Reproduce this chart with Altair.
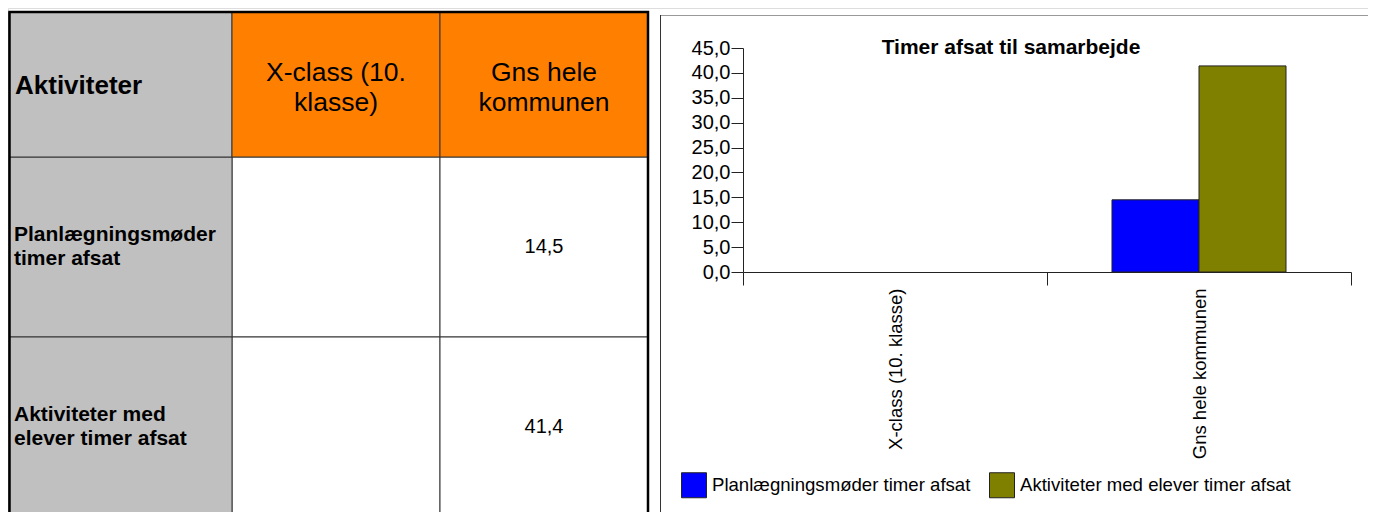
import altair as alt
import pandas as pd

# ---------------- data ----------------
categories = ["X-class (10. klasse)", "Gns hele kommunen"]
header_labels = ["X-class (10.\nklasse)", "Gns hele\nkommunen"]
series = ["Planlægningsmøder timer afsat", "Aktiviteter med elever timer afsat"]
row_labels = ["Planlægningsmøder\ntimer afsat", "Aktiviteter med\nelever timer afsat"]
planl_values = [None, 14.5]
aktiv_values = [None, 41.4]
corner_label = "Aktiviteter"
chart_title = "Timer afsat til samarbejde"
y_ticks = [0, 5, 10, 15, 20, 25, 30, 35, 40, 45]
series_colors = ["#0000FF", "#808000"]

FONT = "Liberation Sans"

records = []
for s, vals in zip(series, [planl_values, aktiv_values]):
    for c, v in zip(categories, vals):
        records.append({"series": s, "category": c, "value": v})
df = pd.DataFrame(records)
header_df = pd.DataFrame({"category": categories, "header": header_labels})
rowlab_df = pd.DataFrame({"series": series, "label": row_labels})
corner_df = pd.DataFrame({"t": [corner_label]})
title_df = pd.DataFrame({"t": [chart_title]})

# ---------------- table (left) ----------------
tx = alt.Scale(domain=categories, range=[224, 640], paddingInner=0, paddingOuter=0)
ty = alt.Scale(domain=series, range=[149, 509], paddingInner=0, paddingOuter=0)
LINE = "#333333"

value_cells = alt.Chart(df).mark_rect(fill="white", stroke=LINE, strokeWidth=1).encode(
    x=alt.X("category:N", scale=tx, axis=None),
    y=alt.Y("series:N", scale=ty, axis=None),
)
label_cells = alt.Chart(rowlab_df).mark_rect(fill="#C0C0C0", stroke=LINE, strokeWidth=1).encode(
    x=alt.value(1), x2=alt.value(224),
    y=alt.Y("series:N", scale=ty, axis=None),
)
corner_cell = alt.Chart(corner_df).mark_rect(fill="#C0C0C0", stroke=LINE, strokeWidth=1).encode(
    x=alt.value(1), x2=alt.value(224), y=alt.value(4), y2=alt.value(149)
)
header_cells = alt.Chart(header_df).mark_rect(fill="#FF8000", stroke=LINE, strokeWidth=1).encode(
    x=alt.X("category:N", scale=tx, axis=None),
    y=alt.value(4), y2=alt.value(149),
)
outer_border = alt.Chart(corner_df).mark_rect(fillOpacity=0, stroke="black", strokeWidth=2.5).encode(
    x=alt.value(1.5), x2=alt.value(640), y=alt.value(4), y2=alt.value(600)
)
corner_text = alt.Chart(corner_df).mark_text(
    align="left", baseline="middle", font=FONT, fontSize=26, fontWeight="bold", color="black"
).encode(text="t:N", x=alt.value(7), y=alt.value(78))
header_text = alt.Chart(header_df).mark_text(
    align="center", baseline="middle", font=FONT, fontSize=26.5, color="black",
    lineBreak="\n", lineHeight=30, dy=-14,
).encode(
    x=alt.X("category:N", scale=tx, axis=None), y=alt.value(79), text="header:N"
)
row_text = alt.Chart(rowlab_df).mark_text(
    align="left", baseline="middle", font=FONT, fontSize=21, fontWeight="bold", color="black",
    lineBreak="\n", lineHeight=23.5, dy=-12,
).encode(
    x=alt.value(6), y=alt.Y("series:N", scale=ty, axis=None), text="label:N"
)
value_text = alt.Chart(df).transform_filter("isValid(datum.value)").transform_calculate(
    lbl="replace(format(datum.value, '.1f'), '.', ',')"
).mark_text(align="center", baseline="middle", font=FONT, fontSize=20, color="black").encode(
    x=alt.X("category:N", scale=tx, axis=None),
    y=alt.Y("series:N", scale=ty, axis=None),
    text="lbl:N",
)

table = alt.layer(
    value_cells, label_cells, corner_cell, header_cells, outer_border,
    corner_text, header_text, row_text, value_text,
)

# ---------------- bar chart (right) ----------------
bx = alt.Scale(domain=categories, range=[735, 1343], paddingInner=0, paddingOuter=0)
by = alt.Scale(domain=[0, 45], range=[264, 40], nice=False, zero=True)

frame_top = alt.Chart(title_df).mark_rule(color="#999999", strokeWidth=1).encode(
    x=alt.value(652), x2=alt.value(1400), y=alt.value(7.5)
)
frame_left = alt.Chart(title_df).mark_rule(color="#333333", strokeWidth=1).encode(
    x=alt.value(652.5), y=alt.value(7), y2=alt.value(600)
)

bars = alt.Chart(df).mark_bar(stroke="#222222", strokeWidth=1).encode(
    x=alt.X(
        "category:N", scale=bx,
        axis=alt.Axis(
            orient="bottom", offset=-240, title=None, labelAngle=270,
            labelFont=FONT, labelFontSize=18.5, labelColor="black", labelPadding=3,
            tickSize=13, tickBand="extent", tickColor="#222222", domainColor="#222222",
            labelLimit=0, labelOverlap=False, grid=False,
        ),
    ),
    xOffset=alt.XOffset("series:N", scale=alt.Scale(domain=series, paddingInner=0, paddingOuter=0.747)),
    y=alt.Y(
        "value:Q", scale=by,
        axis=alt.Axis(
            orient="left", offset=-735, title=None, values=y_ticks,
            labelExpr="replace(format(datum.value, '.1f'), '.', ',')",
            labelFont=FONT, labelFontSize=20, labelColor="black", labelPadding=1,
            tickSize=12, tickColor="#222222", domainColor="#222222", grid=False,
        ),
    ),
    color=alt.Color(
        "series:N",
        scale=alt.Scale(domain=series, range=series_colors),
        legend=alt.Legend(
            orient="none", legendX=673, legendY=464, direction="horizontal", title=None,
            symbolType="square", symbolSize=625, symbolStrokeColor="#222222",
            symbolStrokeWidth=1, labelFont=FONT, labelFontSize=18.6, labelColor="black",
            labelOffset=5, labelLimit=0, columnPadding=16, padding=0,
        ),
    ),
)

title_text = alt.Chart(title_df).mark_text(
    align="center", baseline="middle", font=FONT, fontSize=21, fontWeight="bold", color="black"
).encode(text="t:N", x=alt.value(1003), y=alt.value(40))

barchart = alt.layer(frame_top, frame_left, bars, title_text)

chart = alt.layer(table, barchart).resolve_scale(
    x="independent", y="independent"
).properties(
    width=1360, height=504, padding=0, autosize=alt.AutoSizeParams(type="none")
).configure_view(strokeWidth=0).configure(background="white")

chart.save("out.html", embed_options={"renderer": "svg", "actions": False})
